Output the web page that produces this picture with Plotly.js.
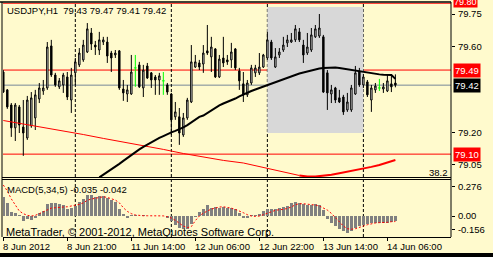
<!DOCTYPE html>
<html><head><meta charset="utf-8">
<script src="https://cdn.plot.ly/plotly-3.0.1.min.js"></script>
<style>html,body{margin:0;padding:0;background:#FFFACD;overflow:hidden}</style>
</head><body><div id="chart" style="width:493px;height:257px"></div>
<script>
// ---------------- DATA ----------------
const symbolLabel = 'USDJPY,H1\u00A0\u00A079.43 79.47 79.41 79.42';
const macdLabel = 'MACD(5,34,5) -0.035 -0.042';
const copyright = 'MetaTrader, \u00A9 2001-2012, MetaQuotes Software Corp.';
const fiboLabel = '38.2';

const timeTickIdx = [0, 16, 32, 48, 64, 80, 96];
const timeLabels = ['8 Jun 2012', '8 Jun 21:00', '11 Jun 14:00', '12 Jun 06:00', '12 Jun 22:00', '13 Jun 14:00', '14 Jun 06:00'];
const priceTicks = [79.75, 79.60, 79.20, 79.05];
const macdTickVals = [0.22, 0, -0.10];
const macdTickText = ['0.276', '0.00', '-0.156'];

const open = [79.481,79.398,79.328,79.222,79.319,79.226,79.175,79.231,79.268,79.356,
79.393,79.407,79.602,79.467,79.412,79.421,79.458,79.351,79.477,79.514,
79.537,79.574,79.662,79.606,79.583,79.620,79.620,79.569,79.560,79.579,
79.402,79.379,79.379,79.500,79.514,79.407,79.509,79.477,79.458,79.444,
79.440,79.421,79.379,79.273,79.273,79.189,79.268,79.342,79.504,79.523,
79.518,79.579,79.551,79.588,79.458,79.546,79.537,79.537,79.588,79.486,
79.426,79.375,79.430,79.477,79.477,79.504,79.546,79.620,79.504,79.560,
79.583,79.616,79.620,79.630,79.667,79.606,79.569,79.583,79.644,79.648,
79.644,79.477,79.379,79.407,79.361,79.365,79.305,79.305,79.379,79.481,
79.421,79.435,79.351,79.398,79.407,79.402,79.393,79.426,79.43];
const high = [79.490,79.402,79.337,79.337,79.328,79.351,79.370,79.388,79.398,79.430,
79.444,79.620,79.630,79.477,79.453,79.477,79.481,79.500,79.546,79.592,
79.630,79.708,79.685,79.625,79.667,79.644,79.644,79.579,79.583,79.583,
79.444,79.421,79.560,79.560,79.528,79.514,79.523,79.481,79.467,79.477,
79.481,79.430,79.384,79.342,79.314,79.291,79.361,79.606,79.560,79.537,
79.606,79.699,79.644,79.592,79.560,79.644,79.560,79.616,79.592,79.500,
79.481,79.444,79.514,79.514,79.569,79.565,79.667,79.630,79.592,79.592,
79.644,79.653,79.662,79.699,79.685,79.630,79.662,79.685,79.699,79.750,
79.653,79.490,79.421,79.412,79.398,79.375,79.384,79.421,79.509,79.500,
79.472,79.444,79.421,79.430,79.449,79.430,79.467,79.467,79.47];
const low = [79.384,79.310,79.180,79.161,79.198,79.092,79.166,79.222,79.212,79.337,
79.375,79.398,79.458,79.412,79.402,79.384,79.351,79.291,79.421,79.504,
79.528,79.569,79.583,79.560,79.560,79.606,79.523,79.481,79.546,79.398,
79.347,79.342,79.375,79.412,79.407,79.365,79.449,79.407,79.375,79.375,
79.375,79.375,79.189,79.259,79.143,79.180,79.259,79.337,79.500,79.490,
79.477,79.560,79.481,79.453,79.453,79.504,79.514,79.500,79.490,79.398,
79.342,79.365,79.421,79.458,79.467,79.500,79.537,79.537,79.500,79.546,
79.574,79.597,79.616,79.620,79.620,79.523,79.560,79.574,79.639,79.639,
79.384,79.305,79.337,79.337,79.337,79.282,79.296,79.296,79.375,79.412,
79.407,79.365,79.296,79.384,79.393,79.384,79.388,79.388,79.41];
const close = [79.388,79.319,79.222,79.328,79.235,79.198,79.351,79.361,79.375,79.407,
79.407,79.597,79.467,79.421,79.440,79.467,79.365,79.467,79.528,79.569,
79.606,79.681,79.611,79.597,79.630,79.630,79.555,79.546,79.569,79.407,
79.384,79.398,79.481,79.500,79.412,79.490,79.453,79.444,79.444,79.463,
79.440,79.388,79.259,79.296,79.198,79.268,79.351,79.528,79.528,79.504,
79.569,79.569,79.597,79.458,79.541,79.523,79.528,79.574,79.500,79.440,
79.375,79.430,79.500,79.500,79.504,79.560,79.630,79.546,79.551,79.574,
79.606,79.630,79.630,79.681,79.630,79.560,79.597,79.653,79.681,79.685,
79.388,79.384,79.398,79.351,79.342,79.296,79.342,79.407,79.477,79.421,
79.458,79.375,79.407,79.416,79.407,79.412,79.440,79.412,79.42];

// moving average (black), starts at bar 24
const maStart = 24;
const maValues = [78.992,79.004,79.018,79.029,79.041,79.055,79.069,79.083,79.096,79.110,
79.122,79.134,79.145,79.157,79.166,79.175,79.184,79.194,79.201,79.208,
79.215,79.224,79.235,79.249,79.263,79.273,79.279,79.291,79.305,79.314,
79.326,79.335,79.342,79.351,79.358,79.368,79.377,79.384,79.393,79.400,
79.407,79.414,79.421,79.428,79.435,79.442,79.449,79.456,79.463,79.469,
79.474,79.479,79.484,79.488,79.493,79.497,79.500,79.501,79.502,79.502,
79.500,79.497,79.493,79.490,79.486,79.483,79.479,79.477,79.474,79.472,
79.470,79.468,79.467,79.467,79.449];

// red curve
const redIdx = [0,5,10,15,20,25,30,35,40,45,50,55,60,65,70,74,76,78,80,82,84,86,88,90,92,94,96,98];
const redVal = [79.256,79.240,79.224,79.210,79.191,79.173,79.157,79.140,79.122,79.103,79.087,79.071,79.059,79.038,79.018,79.001,78.996,78.996,78.999,79.004,79.011,79.018,79.025,79.032,79.041,79.050,79.062,79.073];

// MACD(5,34,5)
const macdHist = [0.146,0.101,0.030,0.025,0.005,-0.038,-0.025,-0.033,-0.018,0.020,
0.038,0.088,0.100,0.096,0.088,0.080,0.055,0.063,0.076,0.106,
0.131,0.159,0.159,0.146,0.152,0.152,0.139,0.121,0.106,0.050,
0.013,-0.013,0.008,0.005,-0.003,0.004,0.003,0.002,-0.002,0.001,
0.002,-0.013,-0.038,-0.070,-0.088,-0.096,-0.100,-0.060,-0.010,0.030,
0.055,0.083,0.063,0.070,0.063,0.068,0.063,0.058,0.050,0.025,
-0.013,-0.018,0.005,0.005,0.013,0.038,0.055,0.055,0.050,0.058,
0.068,0.076,0.096,0.109,0.096,0.088,0.080,0.083,0.088,0.080,
0.043,-0.020,-0.050,-0.076,-0.096,-0.114,-0.131,-0.114,-0.088,-0.076,
-0.070,-0.063,-0.056,-0.056,-0.056,-0.050,-0.050,-0.045,-0.035];
const macdSignal = [0.235,0.190,0.130,0.080,0.038,0.018,0.005,0.000,0.005,0.018,
0.033,0.050,0.060,0.063,0.063,0.068,0.070,0.076,0.080,0.088,
0.100,0.119,0.129,0.136,0.144,0.146,0.141,0.131,0.121,0.100,
0.063,0.035,0.018,0.008,0.003,0.002,0.002,0.002,0.001,0.001,
0.001,-0.005,-0.015,-0.033,-0.056,-0.076,-0.088,-0.080,-0.035,0.000,
0.022,0.040,0.053,0.060,0.068,0.070,0.066,0.060,0.050,0.040,
0.025,0.010,0.000,-0.003,0.000,0.010,0.023,0.035,0.043,0.048,
0.050,0.058,0.068,0.086,0.093,0.093,0.091,0.086,0.083,0.076,
0.063,0.045,0.020,-0.013,-0.050,-0.076,-0.096,-0.100,-0.096,-0.088,
-0.076,-0.066,-0.058,-0.053,-0.050,-0.050,-0.048,-0.043,-0.042];

// objects on chart
const redLevels = [79.80, 79.49, 79.10];
const bidPrice = 79.42;
const separatorIdx = [18, 42, 66, 90];
const zoneIdx = [66, 90];
const zonePrice = [79.198, 79.782];

// ---------------- BUILD ----------------
const W = 493, H = 257, mL = 3, mR = 42, mT = 3, mB = 20;
const plotH = H - mT - mB;           // 234
const py = px => (H - mB - px) / plotH;   // pixel row -> paper y
const px2 = px => (px - mL) / (W - mL - mR);

const bg = '#FFFACD';
const FONT = 'Liberation Sans, Arial, sans-serif';
const fs = 9.5;

const idx = close.map((_, i) => i);
const isDoji = idx.map(i => open[i] === close[i]);
const cx = [], co = [], ch = [], cl = [], cc = [];
idx.forEach(i => { if (!isDoji[i]) { cx.push(i); co.push(open[i]); ch.push(high[i]); cl.push(low[i]); cc.push(close[i]); } });
const dojiX = [], dojiY = [];
idx.forEach(i => { if (isDoji[i]) {
  dojiX.push(i, i, null, i - 0.35, i + 0.35, null);
  dojiY.push(high[i], low[i], null, open[i], open[i], null);
}});

const maX = maValues.map((_, k) => maStart + k);

const splitAt = redIdx.indexOf(74);

const traces = [
  { type: 'candlestick', x: cx, open: co, high: ch, low: cl, close: cc, xaxis: 'x', yaxis: 'y',
    increasing: { line: { color: '#000000', width: 1 }, fillcolor: '#FFFFFF' },
    decreasing: { line: { color: '#000000', width: 1 }, fillcolor: '#000000' },
    whiskerwidth: 0, showlegend: false, hoverinfo: 'skip' },
  { type: 'scatter', mode: 'lines', x: dojiX, y: dojiY, line: { color: '#00FF00', width: 1 }, hoverinfo: 'skip', showlegend: false },
  { type: 'scatter', mode: 'lines', x: redIdx.slice(0, splitAt + 1), y: redVal.slice(0, splitAt + 1), line: { color: '#FF0000', width: 1 }, hoverinfo: 'skip', showlegend: false },
  { type: 'scatter', mode: 'lines', x: redIdx.slice(splitAt), y: redVal.slice(splitAt), line: { color: '#FF0000', width: 2 }, hoverinfo: 'skip', showlegend: false },
  { type: 'scatter', mode: 'lines', x: maX, y: maValues, line: { color: '#000000', width: 2 }, hoverinfo: 'skip', showlegend: false },
  { type: 'bar', x: idx, y: macdHist, yaxis: 'y2', marker: { color: '#808080', line: { width: 0 } }, width: 0.65, hoverinfo: 'skip', showlegend: false },
  { type: 'scatter', mode: 'lines', x: idx, y: macdSignal, yaxis: 'y2', line: { color: '#FF0000', width: 1, dash: '2px,2px' }, hoverinfo: 'skip', showlegend: false }
];

const shapes = [];
shapes.push({ type: 'rect', xref: 'x', yref: 'y', x0: zoneIdx[0], x1: zoneIdx[1], y0: zonePrice[0], y1: zonePrice[1], fillcolor: '#D8D8D8', line: { width: 0 }, layer: 'below' });
redLevels.forEach(v => shapes.push({ type: 'line', xref: 'paper', yref: 'y', x0: 0, x1: 1, y0: v, y1: v, line: { color: '#FF0000', width: 1 }, layer: 'below' }));
shapes.push({ type: 'line', xref: 'paper', yref: 'y', x0: 0, x1: 1, y0: bidPrice, y1: bidPrice, line: { color: '#778899', width: 1 }, layer: 'below' });
separatorIdx.forEach(v => shapes.push({ type: 'line', xref: 'x', yref: 'paper', x0: v, x1: v, y0: 0, y1: 1, line: { color: '#000000', width: 1, dash: '3px,2px' }, layer: 'below' }));
// frame lines
shapes.push({ type: 'line', xref: 'paper', yref: 'paper', x0: px2(0), x1: 1, y0: py(2), y1: py(2), line: { color: '#000', width: 1.5 } });
shapes.push({ type: 'line', xref: 'paper', yref: 'paper', x0: px2(2), x1: px2(2), y0: 0, y1: py(2), line: { color: '#000', width: 1 } });
shapes.push({ type: 'line', xref: 'paper', yref: 'paper', x0: 1, x1: 1, y0: 0, y1: py(2), line: { color: '#000', width: 1 } });
shapes.push({ type: 'line', xref: 'paper', yref: 'paper', x0: px2(2), x1: 1, y0: py(177.5), y1: py(177.5), line: { color: '#000', width: 1 } });
shapes.push({ type: 'line', xref: 'paper', yref: 'paper', x0: px2(2), x1: 1, y0: py(179.5), y1: py(179.5), line: { color: '#000', width: 1 } });
shapes.push({ type: 'rect', xref: 'paper', yref: 'paper', x0: px2(-5), x1: px2(W + 5), y0: py(253), y1: py(H + 5), fillcolor: '#000', line: { width: 0 } });

const ann = [];
ann.push({ xref: 'paper', yref: 'paper', x: px2(5), y: py(10.7), xanchor: 'left', yanchor: 'middle', text: symbolLabel, showarrow: false, font: { family: FONT, size: fs, color: '#000' } });
ann.push({ xref: 'paper', yref: 'paper', x: px2(5), y: py(189.5), xanchor: 'left', yanchor: 'middle', text: macdLabel, showarrow: false, font: { family: FONT, size: fs, color: '#000' } });
ann.push({ xref: 'paper', yref: 'paper', x: px2(4), y: py(232), xanchor: 'left', yanchor: 'middle', text: copyright, showarrow: false, font: { family: FONT, size: 11, color: '#000' } });
ann.push({ xref: 'paper', yref: 'y', x: 1, xshift: -1, y: 79.013, xanchor: 'right', yanchor: 'middle', text: fiboLabel, showarrow: false, font: { family: FONT, size: fs, color: '#000' } });
timeTickIdx.forEach((t, k) => ann.push({ xref: 'x', yref: 'paper', x: t, xshift: -2, y: py(246), xanchor: 'left', yanchor: 'middle', text: timeLabels[k], showarrow: false, font: { family: FONT, size: fs, color: '#000' } }));
redLevels.forEach(v => {
  const top = (v === redLevels[0]);
  ann.push({ xref: 'paper', yref: 'y', x: 1, xshift: 2, y: v, yshift: (top ? 1 : 0), xanchor: 'left', yanchor: 'middle', text: v.toFixed(2), showarrow: false, bgcolor: '#FF0000', borderpad: (top ? 0 : 1), font: { family: FONT, size: (top ? 9 : fs), color: '#FFFFFF' } });
});
ann.push({ xref: 'paper', yref: 'y', x: 1, xshift: 2, y: bidPrice, xanchor: 'left', yanchor: 'middle', text: bidPrice.toFixed(2), showarrow: false, bgcolor: '#000000', borderpad: 1, font: { family: FONT, size: fs, color: '#FFFFFF' } });

const layout = {
  width: W, height: H,
  margin: { l: mL, r: mR, t: mT, b: mB, pad: 0 },
  paper_bgcolor: bg, plot_bgcolor: bg,
  showlegend: false, boxgap: 0.5, bargap: 0,
  font: { family: FONT, size: fs, color: '#000' },
  xaxis: { anchor: 'y2', range: [-0.075, 111.9], showgrid: false, zeroline: false, showline: true, linecolor: '#000', linewidth: 1,
           ticks: 'outside', ticklen: 3, tickcolor: '#000', tickvals: timeTickIdx, showticklabels: false, rangeslider: { visible: false }, fixedrange: true },
  yaxis: { domain: [py(177), 1], range: [78.994, 79.801], side: 'right', showgrid: false, zeroline: false, showline: false,
           ticks: 'outside', ticklen: 3, tickcolor: '#000', tickvals: priceTicks, tickformat: '.2f', ticklabelstandoff: 1, fixedrange: true },
  yaxis2: { domain: [0, py(180)], range: [-0.159, 0.273], side: 'right', showgrid: false, zeroline: false, showline: false,
            ticks: 'outside', ticklen: 3, tickcolor: '#000', tickvals: macdTickVals, ticktext: macdTickText, ticklabelstandoff: 1, fixedrange: true },
  shapes: shapes, annotations: ann
};

Plotly.newPlot('chart', traces, layout, { displayModeBar: false, staticPlot: true });
</script></body></html>
